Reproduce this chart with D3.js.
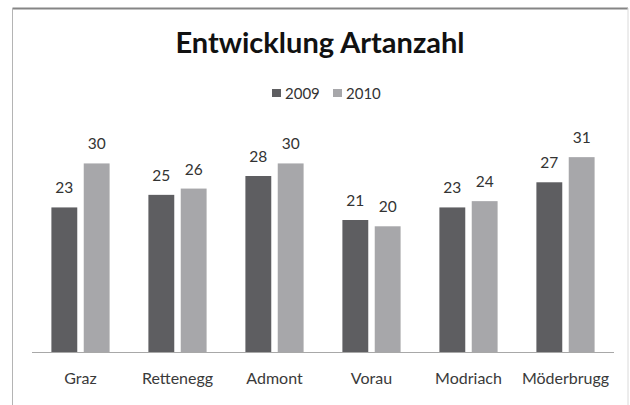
<!DOCTYPE html>
<html>
<head>
<meta charset="utf-8">
<script src="https://cdn.jsdelivr.net/npm/d3@7"></script>
<style>
body{margin:0;background:#fff;}
svg{display:block;}
</style>
</head>
<body>
<svg id="chart" width="630" height="405"></svg>
<script>
// data
var places=["Graz","Rettenegg","Admont","Vorau","Modriach","Möderbrugg"]
var years=["2009","2010"]
var values2009=[23,25,28,21,23,27]
var values2010=[30,26,30,20,24,31]
var barColors=["#5e5e61","#a7a7aa"]

var svg=d3.select("#chart")
var fontFam="Lato, 'Open Sans', sans-serif"

// frame round the chart
svg.append("line").attr("x1",12.5).attr("x2",628).attr("y1",8.5).attr("y2",8.5)
   .attr("stroke","#858585").attr("stroke-width",2)
svg.append("line").attr("x1",12.5).attr("x2",12.5).attr("y1",8).attr("y2",405)
   .attr("stroke","#b4b4b4").attr("stroke-width",1)
svg.append("line").attr("x1",628).attr("x2",628).attr("y1",8).attr("y2",405)
   .attr("stroke","#dadada").attr("stroke-width",1)

// scales
var x0=d3.scaleBand().domain(places).range([32,614])
var x1=d3.scaleBand().domain(years).range([0,x0.bandwidth()])
    .paddingInner(0.2).paddingOuter(0.6)
var y=d3.scaleLinear().domain([0,35]).range([352,132])

var rows=places.map(function(p,i){
   return {place:p, vals:[values2009[i],values2010[i]]}
})

// title
svg.append("text")
  .attr("x",320).attr("y",53)
  .attr("text-anchor","middle")
  .attr("font-family",fontFam)
  .attr("font-weight","bold")
  .attr("font-size","29px")
  .attr("fill","#111")
  .text("Entwicklung Artanzahl")

// legend
var legend=svg.append("g").attr("transform","translate(272,89)")
years.forEach(function(yr,i){
  var g=legend.append("g").attr("transform","translate("+(i*61)+",0)")
  g.append("rect").attr("width",9).attr("height",8).attr("fill",barColors[i])
  g.append("text").attr("x",13).attr("y",9.5)
   .attr("font-family",fontFam).attr("font-size","15px").attr("fill","#333")
   .text(yr)
})

// bars
var groups=svg.selectAll("g.grp").data(rows).enter().append("g")
   .attr("class","grp")
   .attr("transform",function(d){return "translate("+x0(d.place)+",0)"})

groups.selectAll("rect").data(function(d){return d.vals.map(function(v,j){return {yr:years[j],v:v,j:j}})})
  .enter().append("rect")
  .attr("x",function(d){return x1(d.yr)})
  .attr("y",function(d){return y(d.v)})
  .attr("width",x1.bandwidth())
  .attr("height",function(d){return y(0)-y(d.v)})
  .attr("fill",function(d){return barColors[d.j]})

// value labels
groups.selectAll("text.val").data(function(d){return d.vals.map(function(v,j){return {yr:years[j],v:v}})})
  .enter().append("text")
  .attr("class","val")
  .attr("x",function(d){return x1(d.yr)+x1.bandwidth()/2})
  .attr("y",function(d){return y(d.v)-14})
  .attr("text-anchor","middle")
  .attr("font-family",fontFam).attr("font-size","15.5px").attr("fill","#333")
  .text(function(d){return d.v})

// x axis
var xAxis=svg.append("g").attr("transform","translate(0,352)")
  .call(d3.axisBottom(x0).tickSize(0).tickPadding(21))
xAxis.select(".domain").attr("stroke","#a8a8a8").attr("d","M32,0.5H614")
xAxis.selectAll("text").attr("font-family",fontFam).attr("font-size","16px").attr("fill","#3a3a3a")
</script>
</body>
</html>
